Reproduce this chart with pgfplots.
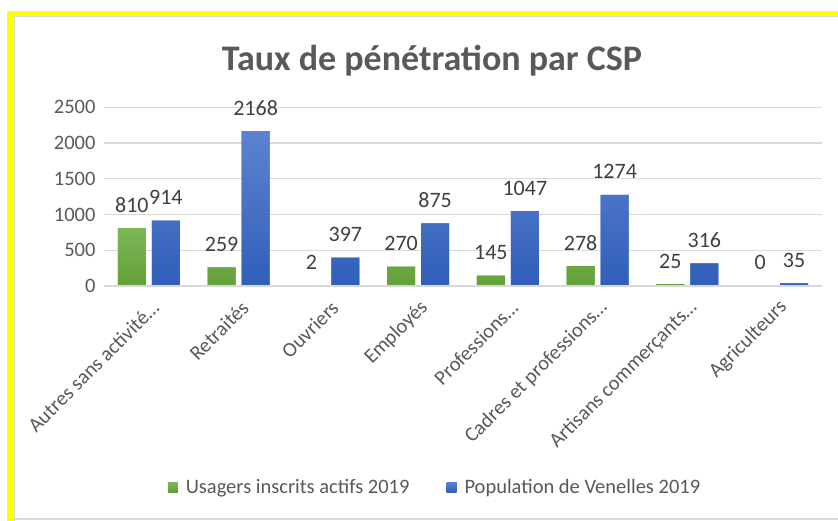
\documentclass[border=0pt]{standalone}
\usepackage{fontspec}
\setmainfont{Carlito}
\usepackage{pgfplots}
\pgfplotsset{compat=1.18}
\definecolor{txt}{RGB}{89,89,89}
\definecolor{lbl}{RGB}{64,64,64}
\definecolor{gridc}{RGB}{217,217,217}
\definecolor{gtop}{RGB}{125,183,88}
\definecolor{gbot}{RGB}{98,160,56}
\definecolor{gmid}{RGB}{112,173,71}
\definecolor{btop}{RGB}{92,131,208}
\definecolor{bbot}{RGB}{48,94,185}
\definecolor{bmid}{RGB}{68,114,196}
\definecolor{frame}{RGB}{255,255,0}

\begin{document}
\begin{tikzpicture}
\path[use as bounding box] (0,0) rectangle (838pt,521pt);
\fill[white] (0,0) rectangle (838pt,521pt);
\fill[frame] (7pt,505pt) rectangle (838pt,510pt);
\fill[frame] (7pt,0pt) rectangle (13pt,510pt);
\draw[gridc,line width=1pt] (13pt,504pt) -- (838pt,504pt);
\draw[gridc,line width=1pt] (14pt,0pt) -- (14pt,504pt);
\draw[gridc,line width=1.2pt] (13pt,2pt) -- (838pt,2pt);

\begin{axis}[
  at={(104pt,235pt)}, anchor=south west,
  scale only axis, width=718pt, height=178.7pt,
  ybar=6pt, bar width=28pt,
  xmin=-0.5, xmax=7.5, ymin=0, ymax=2500,
  xtick={0,...,7},
  xticklabels={Autres sans activité…,Retraités,Ouvriers,Employés,Professions…,Cadres et professions…,Artisans commerçants…,Agriculteurs},
  ytick={0,500,...,2500},
  /pgf/number format/assume math mode=true,
  /pgf/number format/1000 sep={},
  axis line style={draw=none},
  ymajorgrids, grid style={gridc,line width=1.3pt},
  major tick length=0pt,
  tick label style={font=\fontsize{20.5}{24}\selectfont, text=txt},
  yticklabel style={xshift=-5pt},
  xticklabel style={xshift=9pt, yshift=-16pt, rotate=45, anchor=east},
  title={Taux de pénétration par CSP},
  title style={at={(0.5,1)}, anchor=center, xshift=-31pt, yshift=41pt,
    font=\fontsize{36}{42}\selectfont\bfseries, text=txt},
  nodes near coords,
  every node near coord/.append style={font=\fontsize{22}{26}\selectfont, text=lbl, anchor=base, yshift=16pt},
  legend style={at={(0.461,-1.125)}, anchor=center, draw=none, fill=none,
    legend columns=-1, font=\fontsize{20.5}{24}\selectfont, text=txt,
    /tikz/every odd column/.append style={column sep=6pt},
    /tikz/every even column/.append style={column sep=35pt}},
  legend image code/.code={\fill[#1] (0pt,-5pt) rectangle (10pt,5pt);},
  clip=false,
]
\addplot[draw=none, top color=gtop, bottom color=gbot, fill=gmid] coordinates {(0,810) (1,259) (2,2) (3,270) (4,145) (5,278) (6,25) (7,0)};
\addplot[draw=none, top color=btop, bottom color=bbot, fill=bmid] coordinates {(0,914) (1,2168) (2,397) (3,875) (4,1047) (5,1274) (6,316) (7,35)};
\draw[gridc, line width=1.3pt] (axis cs:-0.5,0) -- (axis cs:7.5,0);
\legend{Usagers inscrits actifs 2019, Population de Venelles 2019}
\end{axis}
\end{tikzpicture}
\end{document}
